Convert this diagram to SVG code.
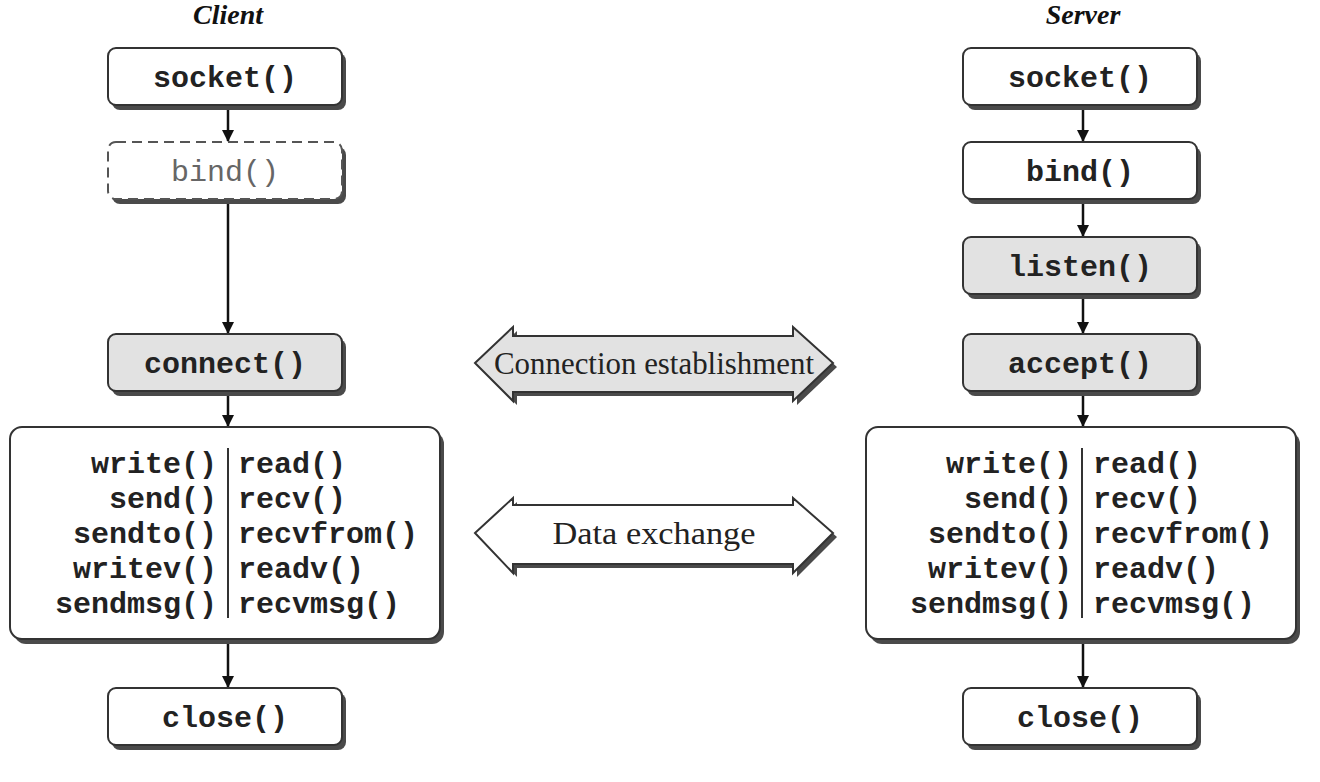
<svg xmlns="http://www.w3.org/2000/svg" width="1320" height="782" viewBox="0 0 1320 782">
<style>
.box{fill:#fff;stroke:#333;stroke-width:2}
.gray{fill:#e2e2e2}
.sh{fill:#4a4a4a}
.dash{fill:#fff;stroke:#555;stroke-width:2;stroke-dasharray:10 6}
.mono{font-family:"Liberation Mono","Courier New",monospace;font-weight:bold;font-size:30px;fill:#222}
.title{font-family:"Liberation Serif","Times New Roman",serif;font-weight:bold;font-style:italic;font-size:28px;fill:#111}
.serif{font-family:"Liberation Serif","Times New Roman",serif;font-size:32px;fill:#222}
.conn{stroke:#111;stroke-width:2.5;fill:none}
.sep{stroke:#333;stroke-width:2}
</style>
<defs>
<marker id="ah" markerWidth="12" markerHeight="12" refX="11" refY="6" orient="auto" markerUnits="userSpaceOnUse" viewBox="0 0 12 12">
<path d="M0,0 L12,6 L0,12 z" fill="#111"/>
</marker>
</defs>
<rect width="1320" height="782" fill="#fff"/>

<text class="title" x="228" y="24" text-anchor="middle">Client</text>
<text class="title" x="1083" y="24" text-anchor="middle">Server</text>

<g id="connectors">
<line class="conn" x1="228" y1="106" x2="228" y2="141" marker-end="url(#ah)"/>
<line class="conn" x1="228" y1="201" x2="228" y2="333" marker-end="url(#ah)"/>
<line class="conn" x1="228" y1="393" x2="228" y2="426" marker-end="url(#ah)"/>
<line class="conn" x1="228" y1="641" x2="228" y2="687" marker-end="url(#ah)"/>
<line class="conn" x1="1083" y1="106" x2="1083" y2="141" marker-end="url(#ah)"/>
<line class="conn" x1="1083" y1="200" x2="1083" y2="236" marker-end="url(#ah)"/>
<line class="conn" x1="1083" y1="296" x2="1083" y2="333" marker-end="url(#ah)"/>
<line class="conn" x1="1083" y1="393" x2="1083" y2="426" marker-end="url(#ah)"/>
<line class="conn" x1="1083" y1="641" x2="1083" y2="687" marker-end="url(#ah)"/>
</g>

<g id="client-socket">
<rect class="sh" x="112" y="53" width="234" height="57" rx="8"/>
<rect class="box" x="108" y="48" width="234" height="57" rx="8"/>
<text class="mono" x="225" y="87" text-anchor="middle">socket()</text>
</g>
<g id="client-bind">
<rect class="sh" x="112" y="147" width="234" height="57" rx="8"/>
<rect class="dash" x="108" y="142" width="234" height="57" rx="8"/>
<text class="mono" x="225" y="181" text-anchor="middle" style="font-weight:normal;fill:#666">bind()</text>
</g>
<g id="client-connect">
<rect class="sh" x="112" y="339" width="234" height="57" rx="8"/>
<rect class="box gray" x="108" y="334" width="234" height="57" rx="8"/>
<text class="mono" x="225" y="373" text-anchor="middle">connect()</text>
</g>
<g id="client-io">
<rect class="sh" x="14" y="432" width="430" height="212" rx="12"/>
<rect class="box" x="10" y="427" width="430" height="212" rx="12"/>
<line class="sep" x1="228" y1="448" x2="228" y2="618"/>
<g class="mono" text-anchor="end">
<text x="217" y="473">write()</text>
<text x="217" y="508">send()</text>
<text x="217" y="543">sendto()</text>
<text x="217" y="578">writev()</text>
<text x="217" y="613">sendmsg()</text>
</g>
<g class="mono">
<text x="238" y="473">read()</text>
<text x="238" y="508">recv()</text>
<text x="238" y="543">recvfrom()</text>
<text x="238" y="578">readv()</text>
<text x="238" y="613">recvmsg()</text>
</g>
</g>
<g id="client-close">
<rect class="sh" x="112" y="693" width="234" height="57" rx="8"/>
<rect class="box" x="108" y="688" width="234" height="57" rx="8"/>
<text class="mono" x="225" y="727" text-anchor="middle">close()</text>
</g>

<g id="server-socket">
<rect class="sh" x="967" y="53" width="234" height="57" rx="8"/>
<rect class="box" x="963" y="48" width="234" height="57" rx="8"/>
<text class="mono" x="1080" y="87" text-anchor="middle">socket()</text>
</g>
<g id="server-bind">
<rect class="sh" x="967" y="147" width="234" height="57" rx="8"/>
<rect class="box" x="963" y="142" width="234" height="57" rx="8"/>
<text class="mono" x="1080" y="181" text-anchor="middle">bind()</text>
</g>
<g id="server-listen">
<rect class="sh" x="967" y="242" width="234" height="57" rx="8"/>
<rect class="box gray" x="963" y="237" width="234" height="57" rx="8"/>
<text class="mono" x="1080" y="276" text-anchor="middle">listen()</text>
</g>
<g id="server-accept">
<rect class="sh" x="967" y="339" width="234" height="57" rx="8"/>
<rect class="box gray" x="963" y="334" width="234" height="57" rx="8"/>
<text class="mono" x="1080" y="373" text-anchor="middle">accept()</text>
</g>
<g id="server-io">
<rect class="sh" x="870" y="432" width="430" height="212" rx="12"/>
<rect class="box" x="866" y="427" width="430" height="212" rx="12"/>
<line class="sep" x1="1082" y1="448" x2="1082" y2="618"/>
<g class="mono" text-anchor="end">
<text x="1072" y="473">write()</text>
<text x="1072" y="508">send()</text>
<text x="1072" y="543">sendto()</text>
<text x="1072" y="578">writev()</text>
<text x="1072" y="613">sendmsg()</text>
</g>
<g class="mono">
<text x="1093" y="473">read()</text>
<text x="1093" y="508">recv()</text>
<text x="1093" y="543">recvfrom()</text>
<text x="1093" y="578">readv()</text>
<text x="1093" y="613">recvmsg()</text>
</g>
</g>
<g id="server-close">
<rect class="sh" x="967" y="693" width="234" height="57" rx="8"/>
<rect class="box" x="963" y="688" width="234" height="57" rx="8"/>
<text class="mono" x="1080" y="727" text-anchor="middle">close()</text>
</g>

<g id="connection-establishment">
<path class="sh" d="M479,367 L517,331 L517,340 L797,340 L797,331 L837,367 L797,405 L797,396 L517,396 L517,405 Z"/>
<path class="box gray" d="M475,363 L513,327 L513,336 L793,336 L793,327 L833,363 L793,401 L793,392 L513,392 L513,401 Z"/>
<text class="serif" x="654" y="374" text-anchor="middle" textLength="320" lengthAdjust="spacingAndGlyphs">Connection establishment</text>
</g>
<g id="data-exchange">
<path class="sh" d="M479,537 L517,502 L517,509 L797,509 L797,502 L837,537 L797,577 L797,568 L517,568 L517,577 Z"/>
<path class="box" d="M475,533 L513,498 L513,505 L793,505 L793,498 L833,533 L793,573 L793,564 L513,564 L513,573 Z"/>
<text class="serif" x="654" y="544" text-anchor="middle" textLength="203" lengthAdjust="spacingAndGlyphs">Data exchange</text>
</g>
</svg>
